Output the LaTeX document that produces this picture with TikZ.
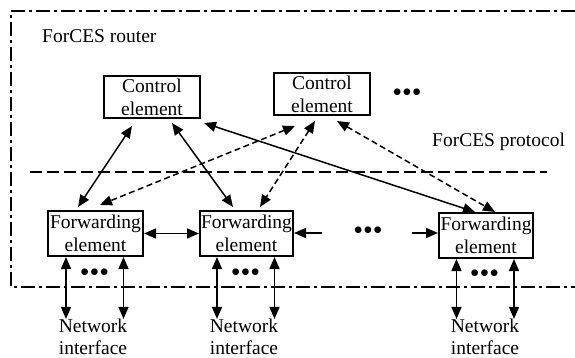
\documentclass[tikz,border=0pt]{standalone}
\usepackage{fontspec}
\setmainfont{Liberation Serif}
\usetikzlibrary{arrows.meta}
\tikzset{
  elem/.style={draw, line width=2pt, align=center, inner xsep=1pt, inner ysep=0pt,
    minimum width=95pt, minimum height=45pt, font=\fontsize{19.5}{23}\selectfont},
  lbl/.style={align=center, inner sep=0pt, font=\fontsize{19.5}{22}\selectfont},
  both/.style={line width=1.5pt, {Triangle[length=12pt,width=10pt]}-{Triangle[length=12pt,width=10pt]}},
  dboth/.style={both, dash pattern=on 6pt off 3.5pt},
  one/.style={line width=1.5pt, -{Triangle[length=12pt,width=10pt]}},
}
\newcommand{\moredots}{{\fontsize{28}{28}\selectfont •••}}
\begin{document}
\begin{tikzpicture}[x=1pt,y=-1pt]
\useasboundingbox (0,0) rectangle (575,358);
% router frame and protocol line
\draw[line width=2.6pt, dash pattern=on 14pt off 4pt on 3pt off 4pt]
  (575,11) -- (11,11) -- (11,287) -- (575,287);
\draw[line width=2.6pt, dash pattern=on 12pt off 5pt] (30,172) -- (547,172);
\node[lbl, anchor=west] (router) at (42,36) {ForCES router};
\node[lbl, anchor=west] (proto) at (432,142) {ForCES protocol};
% control elements
\node[elem, minimum width=96pt, minimum height=42pt] (ce1) at (152,97) {Control\\element};
\node[elem, minimum width=96pt, minimum height=42pt] (ce2) at (322,94) {Control\\element};
\node[inner sep=0pt] (cedots) at (407,95) {\moredots};
% forwarding elements
\node[elem] (fe1) at (95.5,233.5) {Forwarding\\element};
\node[elem, minimum width=93pt] (fe2) at (246.5,233.5) {Forwarding\\element};
\node[elem, minimum width=94pt] (fe3) at (486,235.5) {Forwarding\\element};
\node[inner sep=0pt] (fedots) at (368,233) {\moredots};
\coordinate (gapl) at (322,233);
\coordinate (gapr) at (412,233);
% network interfaces
\node[lbl] (nif1) at (93,337) {Network\\interface};
\node[lbl] (nif2) at (244,337) {Network\\interface};
\node[lbl] (nif3) at (485,337) {Network\\interface};
\node[inner sep=0pt] (d1) at (94.5,275) {\moredots};
\node[inner sep=0pt] (d2) at (245.5,275) {\moredots};
\node[inner sep=0pt] (d3) at (484.5,276) {\moredots};
% CE to FE links
\draw[both] ([xshift=-20pt,yshift=-7pt]ce1.south) -- ([xshift=-17.5pt,yshift=3pt]fe1.north);
\draw[both] ([xshift=20pt,yshift=-4pt]ce1.south) -- ([xshift=-13.5pt,yshift=3pt]fe2.north);
\draw[both] ([xshift=3pt,yshift=-4pt]ce1.south east) -- ([xshift=-11pt]fe3.north);
\draw[dboth] ([xshift=-27pt,yshift=-10pt]ce2.south) -- ([xshift=4.5pt,yshift=5pt]fe1.north);
\draw[dboth] ([xshift=-7pt,yshift=-5pt]ce2.south) -- ([xshift=13.5pt,yshift=3pt]fe2.north);
\draw[dboth] ([xshift=15pt,yshift=-5pt]ce2.south) -- ([xshift=9pt]fe3.north);
% FE to FE links
\draw[both] (fe1.east) -- (fe2.west);
\draw[one] (gapl) -- (gapl -| fe2.east);
\draw[one] (gapr) -- (gapr -| fe3.west);
% FE to interface links
\foreach \f/\n in {fe1/nif1, fe2/nif2, fe3/nif3} {
  \draw[both] ([xshift=-29.5pt]\f.south) -- ([xshift=-29.5pt]\f.south |- \n.north);
  \draw[both] ([xshift=28pt]\f.south) -- ([xshift=28pt]\f.south |- \n.north);
}
\end{tikzpicture}
\end{document}
